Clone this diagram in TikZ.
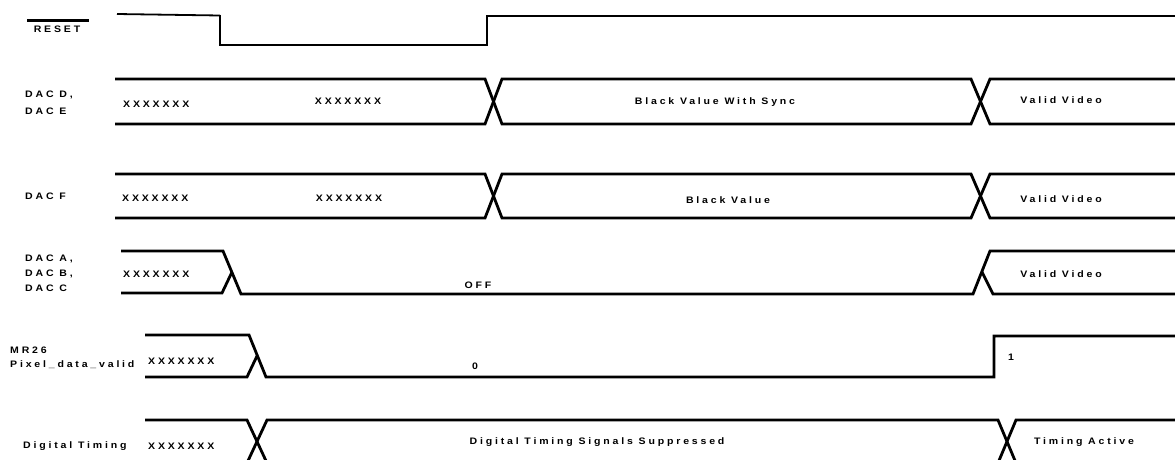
\documentclass[tikz,border=0pt]{standalone}
\usepackage{fontspec}
\newfontfamily\labfont{Liberation Sans}[LetterSpace=30,FakeStretch=1.12]
\begin{document}
\begin{tikzpicture}[x=1pt,y=-1pt,
  wave/.style={line width=2.8pt,line join=miter},
  thinwave/.style={line width=1.8pt},
  lab/.style={font=\labfont\bfseries\fontsize{9.4}{14}\selectfont,inner sep=0pt,align=left},
]
\useasboundingbox (0,0) rectangle (1175,459);
\clip (0,0) rectangle (1175,459);
\fill[white] (0,0) rectangle (1175,459);

% ---- RESET ----
\node[lab,anchor=center] (rst) at (57,29) {RESET};
\draw[line width=2.4pt] (27,20.5) -- (89,20.5);
\draw[thinwave] (117,14) -- (220,15.5);
\draw[wave] (220,15) -- (220,45) -- (487,45) -- (487,16) -- (1175,16);

% ---- DAC D, DAC E ----
\node[lab,anchor=west,font=\labfont\bfseries\fontsize{9.4}{17}\selectfont] (de) at (25,102.5) {DAC D,\\DAC E};
\draw[wave] (115,79) -- (485,79) -- (502,124) -- (971,124) -- (990,79) -- (1175,79);
\draw[wave] (115,124) -- (485,124) -- (502,79) -- (971,79) -- (990,124) -- (1175,124);
\node[lab,anchor=west] (dex1) at (123,104) {XXXXXXX};
\node[lab] (dex2) at (348,101) {XXXXXXX};
\node[lab] (debv) at (715,102) {Black Value With Sync};
\node[lab] (devv) at (1061,100) {Valid Video};

% ---- DAC F ----
\node[lab,anchor=west] (f) at (25,196) {DAC F};
\draw[wave] (115,174) -- (485,174) -- (502,218) -- (971,218) -- (990,174) -- (1175,174);
\draw[wave] (115,218) -- (485,218) -- (502,174) -- (971,174) -- (990,218) -- (1175,218);
\node[lab,anchor=west] (fx1) at (122,198) {XXXXXXX};
\node[lab] (fx2) at (349,198) {XXXXXXX};
\node[lab] (fbv) at (728,200) {Black Value};
\node[lab] (fvv) at (1061,199) {Valid Video};

% ---- DAC A, B, C ----
\node[lab,anchor=west,font=\labfont\bfseries\fontsize{9.4}{15}\selectfont] (abc) at (25,273) {DAC A,\\DAC B,\\DAC C};
\draw[wave] (121,251) -- (223,251) -- (241,294) -- (973,294) -- (990,251) -- (1175,251);
\draw[wave] (121,293) -- (222,293) -- (232,272);
\draw[wave] (982,272) -- (993,294) -- (1175,294);
\node[lab,anchor=west] (abcx) at (123,274) {XXXXXXX};
\node[lab] (off) at (478,285) {OFF};
\node[lab] (abcvv) at (1061,274) {Valid Video};

% ---- MR26 ----
\node[lab,anchor=west,font=\labfont\bfseries\fontsize{9.4}{14}\selectfont] (mr) at (10,358) {MR26\\Pixel\_data\_valid};
\draw[wave] (145,335) -- (249,335) -- (266,377) -- (994,377) -- (994,336) -- (1175,336);
\draw[wave] (145,377) -- (247,377) -- (257,356);
\node[lab,anchor=west] (mrx) at (148,361) {XXXXXXX};
\node[lab] (zero) at (475,366) {0};
\node[lab] (one) at (1011,357) {1};

% ---- Digital Timing ----
\node[lab,anchor=west] (dt) at (23,446) {Digital Timing};
\draw[wave] (145,420) -- (247,420) -- (267,463) -- (998,463) -- (1016,420) -- (1175,420);
\draw[wave] (145,463) -- (247,463) -- (267,420) -- (998,420) -- (1016,463) -- (1175,463);
\node[lab,anchor=west] (dtx) at (148,446) {XXXXXXX};
\node[lab] (dts) at (597,442) {Digital Timing Signals Suppressed};
\node[lab] (dta) at (1084,442) {Timing Active};
\end{tikzpicture}
\end{document}
